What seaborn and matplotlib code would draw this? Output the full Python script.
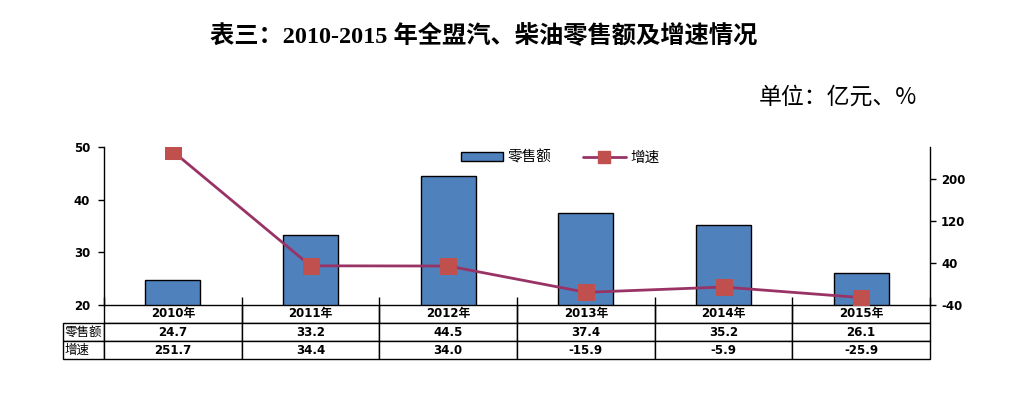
import numpy as np
import matplotlib
matplotlib.use("Agg")
import matplotlib.pyplot as plt
from matplotlib.patches import Patch
from matplotlib.lines import Line2D
import seaborn as sns

# ─── DATA ──────────────────────────────────────────────────────────────────────
years = ["2010年", "2011年", "2012年", "2013年", "2014年", "2015年"]
sales = [24.7, 33.2, 44.5, 37.4, 35.2, 26.1]        # 零售额（亿元）
growth = [251.7, 34.4, 34.0, -15.9, -5.9, -25.9]    # 增速（%）
row_labels = ["零售额", "增速"]
left_ticks = [20, 30, 40, 50]
right_ticks = [-40, 40, 120, 200]

title = "表三：2010-2015 年全盟汽、柴油零售额及增速情况"
unit = "单位：亿元、%"

BAR_COLOR = "#4F81BD"
LINE_COLOR = "#993366"
MARK_COLOR = "#C0504D"

# ─── STYLE ─────────────────────────────────────────────────────────────────────
sns.set_style("white")
plt.rcParams["font.family"] = ["DejaVu Sans", "Noto Sans CJK SC"]
plt.rcParams["axes.unicode_minus"] = False
for k in ["text.color", "axes.labelcolor", "xtick.color", "ytick.color",
          "axes.edgecolor"]:
    plt.rcParams[k] = "black"
CJK = ["Noto Sans CJK SC", "DejaVu Sans"]

fig = plt.figure(figsize=(10.28, 3.95), dpi=100)
W, H = 1028, 395
x0, x1, y0, y1 = 104, 930, 147, 305
ax = fig.add_axes([x0 / W, 1 - y1 / H, (x1 - x0) / W, (y1 - y0) / H])

# ─── BARS ──────────────────────────────────────────────────────────────────────
pos = np.arange(len(years))
sns.barplot(x=pos, y=sales, ax=ax, color=BAR_COLOR, width=0.4,
            edgecolor="black", linewidth=1, saturation=1, native_scale=True)
ax.set_xlim(-0.5, len(years) - 0.5)
ax.set_ylim(20, 50)
ax.set_yticks(left_ticks)
ax.set_yticklabels([str(t) for t in left_ticks], fontsize=8.5, fontweight="bold")
ax.set_xticks(np.arange(-0.5, len(years), 1.0))
ax.set_xticklabels([])
ax.tick_params(axis="x", direction="in", length=6, width=1, color="black",
               bottom=True)
ax.tick_params(axis="y", direction="out", length=4, width=1, color="black",
               left=True, pad=6)
for s in ["top", "right"]:
    ax.spines[s].set_visible(False)
for s in ["left", "bottom"]:
    ax.spines[s].set_color("black")
    ax.spines[s].set_linewidth(1)

# ─── LINE (secondary axis) ─────────────────────────────────────────────────────
ax2 = ax.twinx()
sns.lineplot(x=pos, y=growth, ax=ax2, color=LINE_COLOR, linewidth=2,
             marker="s", markersize=11, markerfacecolor=MARK_COLOR,
             markeredgecolor=MARK_COLOR)
ax2.set_ylim(-40, 260)
ax2.set_yticks(right_ticks)
ax2.set_yticklabels([str(t) for t in right_ticks], fontsize=8.5, fontweight="bold")
ax2.tick_params(axis="y", direction="out", length=4, width=1, color="black",
                right=True, pad=4)
for s in ["top", "left", "bottom"]:
    ax2.spines[s].set_visible(False)
ax2.spines["right"].set_color("black")
ax2.spines["right"].set_linewidth(1)
ax2.set_ylabel("")

# ─── LEGEND ────────────────────────────────────────────────────────────────────
handles = [
    Patch(facecolor=BAR_COLOR, edgecolor="black", linewidth=1, label="零售额"),
    Line2D([0], [0], color=LINE_COLOR, linewidth=2, marker="s", markersize=8,
           markerfacecolor=MARK_COLOR, markeredgecolor=MARK_COLOR, label="增速"),
]
ax2.legend(handles=handles, loc="upper center", bbox_to_anchor=(0.552, 1.06),
           ncol=2, frameon=False, handlelength=2.9, handleheight=0.55,
           columnspacing=2.2, handletextpad=0.3,
           prop={"family": CJK, "size": 10.5})

# ─── DATA TABLE ────────────────────────────────────────────────────────────────
cell_text = [[""] + years,
             [row_labels[0]] + [f"{v:.1f}" for v in sales],
             [row_labels[1]] + [f"{v:.1f}" for v in growth]]
lab_w = (x0 - 63) / (x1 - x0)
col_w = [lab_w] + [1 / len(years)] * len(years)
tab_h = (359 - y1) / (y1 - y0)
tbl = ax.table(cellText=cell_text, colWidths=col_w, cellLoc="center",
               bbox=[-lab_w, -tab_h, 1 + lab_w, tab_h])
tbl.auto_set_font_size(False)
for (r, c), cell in tbl.get_celld().items():
    cell.set_linewidth(1)
    cell.set_edgecolor("black")
    txt = cell.get_text()
    txt.set_color("black")
    if c == 0:
        txt.set_fontfamily(CJK)
        txt.set_fontsize(9)
        txt.set_ha("left")
        cell.PAD = 0.03
        if r == 0:
            cell.visible_edges = ""
    else:
        txt.set_fontsize(8.5)
        txt.set_fontweight("bold")
        if r == 0:
            txt.set_fontfamily(["DejaVu Sans", "Noto Sans CJK SC"])
            cell.visible_edges = "BLR"

# ─── TITLES ────────────────────────────────────────────────────────────────────
fig.text(484 / W, 1 - 35 / H, title, ha="center", va="center", fontsize=17.5,
         fontweight="bold", color="black",
         family=["Liberation Serif", "Noto Sans CJK SC"])
fig.text(917 / W, 1 - 97 / H, unit, ha="right", va="center", fontsize=16.5,
         color="black", family=["Noto Sans CJK SC", "DejaVu Sans"])

fig.savefig("out.png", dpi=100)
